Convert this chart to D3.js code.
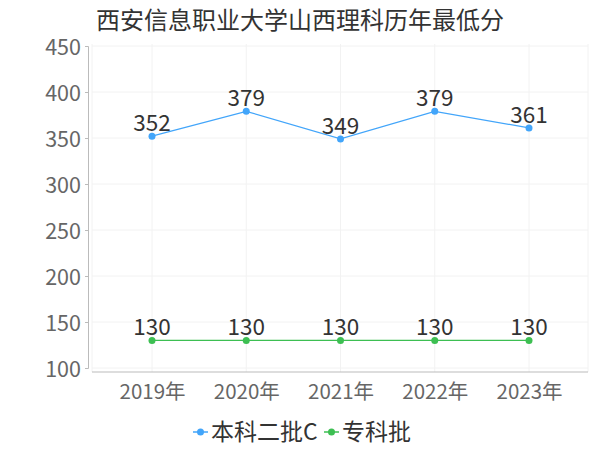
<!DOCTYPE html>
<html>
<head>
<meta charset="utf-8">
<script src="https://cdn.jsdelivr.net/npm/d3@7"></script>
<style>
  body { margin: 0; background: #fff; }
  svg { font-family: "Noto Sans CJK SC", "Noto Sans", sans-serif; }
</style>
</head>
<body>
<div id="chart"></div>
<script>
// chart data
var years = ["2019年", "2020年", "2021年", "2022年", "2023年"];
var benke = [352, 379, 349, 379, 361];
var zhuanke = [130, 130, 130, 130, 130];
var seriesNames = ["本科二批C", "专科批"];
var yTicks = [100, 150, 200, 250, 300, 350, 400, 450];

var width = 600;
var height = 450;
var blue = "#42a5fa";
var green = "#3dbf52";

var svg = d3.select("#chart").append("svg")
    .attr("width", width)
    .attr("height", height);

var x = d3.scalePoint()
    .domain(years)
    .range([152, 529]);

var y = d3.scaleLinear()
    .domain([100, 450])
    .range([368, 46]);

// title
svg.append("text")
    .attr("x", 300)
    .attr("y", 29)
    .attr("text-anchor", "middle")
    .attr("font-size", "24px")
    .attr("fill", "#333")
    .text("西安信息职业大学山西理科历年最低分");

// horizontal grid
svg.selectAll("hgrid")
    .data(yTicks)
    .enter()
    .append("line")
    .attr("x1", 92)
    .attr("x2", 588)
    .attr("y1", function (d) { return y(d); })
    .attr("y2", function (d) { return y(d); })
    .attr("stroke", "#f2f2f2")
    .attr("stroke-width", 1);

// vertical grid
svg.selectAll("vgrid")
    .data(years)
    .enter()
    .append("line")
    .attr("x1", function (d) { return x(d); })
    .attr("x2", function (d) { return x(d); })
    .attr("y1", 44)
    .attr("y2", 372)
    .attr("stroke", "#f2f2f2")
    .attr("stroke-width", 1);

svg.append("line")
    .attr("x1", 588).attr("x2", 588)
    .attr("y1", 44).attr("y2", 372)
    .attr("stroke", "#f2f2f2");
svg.append("line")
    .attr("x1", 92).attr("x2", 92)
    .attr("y1", 44).attr("y2", 372)
    .attr("stroke", "#f2f2f2");

// y axis
var yAxis = svg.append("g")
    .attr("transform", "translate(88,0)")
    .call(d3.axisLeft(y).tickValues(yTicks).tickSize(3).tickPadding(4));
yAxis.select(".domain").attr("stroke", "#bbb");
yAxis.selectAll(".tick line").attr("stroke", "#bbb");
yAxis.selectAll(".tick text")
    .attr("font-size", "21.5px")
    .attr("font-family", "Noto Sans CJK SC, sans-serif")
    .attr("fill", "#666")
    .attr("dy", "0.38em");

// x axis
var xAxis = svg.append("g")
    .attr("transform", "translate(0,372)")
    .call(d3.axisBottom(x).tickSize(0).tickPadding(12));
xAxis.select(".domain").attr("d", "M92,0H588").attr("stroke", "#bbb");
xAxis.selectAll(".tick text")
    .attr("font-size", "20.5px")
    .attr("font-family", "Noto Sans CJK SC, sans-serif")
    .attr("fill", "#666");

// series
var series = [
  { name: seriesNames[0], values: benke, color: blue },
  { name: seriesNames[1], values: zhuanke, color: green }
];

var line = d3.line()
    .x(function (d, i) { return x(years[i]); })
    .y(function (d) { return y(d); });

series.forEach(function (s) {
  svg.append("path")
      .datum(s.values)
      .attr("d", line)
      .attr("fill", "none")
      .attr("stroke", s.color)
      .attr("stroke-width", 1.2);

  svg.selectAll("pt")
      .data(s.values)
      .enter()
      .append("circle")
      .attr("cx", function (d, i) { return x(years[i]); })
      .attr("cy", function (d) { return y(d); })
      .attr("r", 3.5)
      .attr("fill", s.color);

  svg.selectAll("lbl")
      .data(s.values)
      .enter()
      .append("text")
      .attr("x", function (d, i) { return x(years[i]); })
      .attr("y", function (d) { return y(d) - 5; })
      .attr("text-anchor", "middle")
      .attr("font-size", "22.5px")
      .attr("fill", "#333")
      .text(function (d) { return d; });
});

// legend
var legendX = [193, 324];
series.forEach(function (s, i) {
  var g = svg.append("g").attr("transform", "translate(" + legendX[i] + ",432)");
  g.append("line")
      .attr("x1", 0).attr("x2", 15)
      .attr("y1", 0).attr("y2", 0)
      .attr("stroke", s.color)
      .attr("stroke-width", 1.5);
  g.append("circle")
      .attr("cx", 7.5).attr("cy", 0).attr("r", 3.5)
      .attr("fill", s.color);
  g.append("text")
      .attr("x", 18)
      .attr("y", 8)
      .attr("font-size", "23px")
      .attr("fill", "#333")
      .text(s.name);
});
</script>
</body>
</html>
